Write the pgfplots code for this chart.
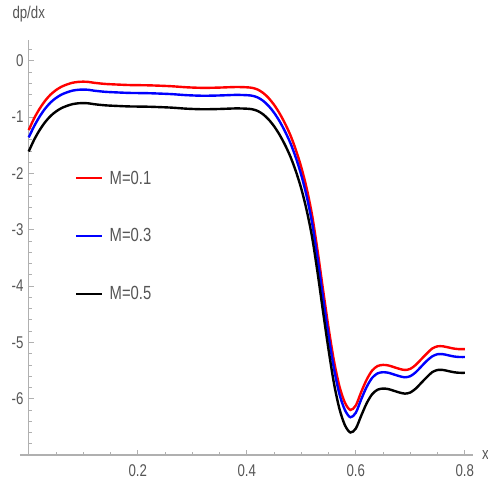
\documentclass[border=0pt]{standalone}
\usepackage{fontspec}
\setmainfont{Liberation Sans}[FakeStretch=0.78]
\usepackage{pgfplots}
\pgfplotsset{compat=1.18}
\definecolor{axgray}{HTML}{B0B0B0}
\definecolor{lblgray}{HTML}{555555}
\begin{document}
\begin{tikzpicture}
\begin{axis}[
  scale only axis, width=453bp, height=415bp,
  xmin=-0.016, xmax=0.815, ymin=-7.0, ymax=0.37,
  axis x line=bottom, axis y line=middle,
  axis line style={-, draw=axgray, line width=1.1bp},
  xtick={0.2,0.4,0.6,0.8}, xticklabels={0.2,0.4,0.6,0.8},
  ytick={-6,-5,-4,-3,-2,-1,0}, yticklabels={-6,-5,-4,-3,-2,-1,0},
  minor xtick={0.05,0.1,0.15,0.25,0.3,0.35,0.45,0.5,0.55,0.65,0.7,0.75},
  minor ytick={-6.8,-6.6,-6.4,-6.2,-5.8,-5.6,-5.4,-5.2,-4.8,-4.6,-4.4,-4.2,-3.8,-3.6,-3.4,-3.2,-2.8,-2.6,-2.4,-2.2,-1.8,-1.6,-1.4,-1.2,-0.8,-0.6,-0.4,-0.2,0.2},
  tick align=inside,
  major tick length=5bp, minor tick length=3bp,
  tick style={draw=axgray, line width=0.8bp},
  ticklabel style={font=\fontsize{17bp}{20bp}\selectfont, text=lblgray},
  yticklabel style={inner sep=0pt, xshift=-5bp},
  xticklabel style={inner sep=0pt, yshift=-9bp},
  ylabel={dp/dx},
  ylabel style={at={(axis description cs:0.01925,1)}, anchor=south, rotate=0, inner sep=0pt, yshift=18bp, font=\fontsize{17bp}{20bp}\selectfont, text=lblgray},
  xlabel={x},
  xlabel style={at={(axis description cs:1,0)}, anchor=west, inner sep=0pt, xshift=9bp, font=\fontsize{17bp}{20bp}\selectfont, text=lblgray},
  legend style={draw=none, fill=none, inner sep=0pt, at={(axis cs:0.085,-1.95)}, anchor=north west,
    font=\fontsize{19bp}{22bp}\selectfont, text=lblgray, row sep=43bp, column sep=6bp,
    nodes={inner sep=0pt}},
  legend cell align=left,
  legend image code/.code={\draw[#1] (0bp,0bp) -- (26bp,0bp);},
  every axis plot/.append style={line width=2.4bp, smooth},
]
\addplot[red] coordinates {
(0,-1.23)(0.01,-1.02)(0.02,-0.85)(0.03,-0.71)(0.04,-0.60)(0.05,-0.52)(0.06,-0.46)(0.07,-0.42)(0.08,-0.39)(0.09,-0.375)
(0.10,-0.37)(0.11,-0.375)(0.12,-0.39)(0.14,-0.41)(0.16,-0.42)(0.185,-0.43)(0.22,-0.435)(0.26,-0.45)(0.29,-0.47)(0.32,-0.48)
(0.35,-0.475)(0.38,-0.465)(0.40,-0.47)(0.41,-0.48)(0.42,-0.51)(0.43,-0.57)(0.44,-0.66)(0.45,-0.78)(0.46,-0.93)(0.47,-1.11)
(0.48,-1.32)(0.49,-1.58)(0.50,-1.89)(0.51,-2.27)(0.52,-2.75)(0.53,-3.38)(0.54,-4.07)(0.55,-4.74)(0.56,-5.33)(0.57,-5.78)
(0.58,-6.07)(0.59,-6.20)(0.60,-6.12)(0.61,-5.88)(0.62,-5.66)(0.63,-5.50)(0.64,-5.42)(0.65,-5.40)(0.66,-5.41)(0.67,-5.44)
(0.68,-5.47)(0.69,-5.49)(0.70,-5.47)(0.71,-5.40)(0.72,-5.30)(0.73,-5.20)(0.74,-5.11)(0.75,-5.07)(0.76,-5.07)(0.77,-5.09)
(0.78,-5.11)(0.79,-5.12)(0.80,-5.12)};
\addlegendentry{M=0.1}
\addplot[blue] coordinates {
(0,-1.36)(0.01,-1.16)(0.02,-0.99)(0.03,-0.85)(0.04,-0.74)(0.05,-0.66)(0.06,-0.60)(0.07,-0.56)(0.08,-0.53)(0.09,-0.515)
(0.10,-0.51)(0.11,-0.515)(0.12,-0.53)(0.14,-0.55)(0.16,-0.56)(0.185,-0.57)(0.22,-0.575)(0.26,-0.59)(0.29,-0.61)(0.32,-0.62)
(0.35,-0.615)(0.38,-0.605)(0.40,-0.61)(0.41,-0.62)(0.42,-0.65)(0.43,-0.71)(0.44,-0.80)(0.45,-0.92)(0.46,-1.07)(0.47,-1.25)
(0.48,-1.46)(0.49,-1.72)(0.50,-2.03)(0.51,-2.41)(0.52,-2.89)(0.53,-3.52)(0.54,-4.21)(0.55,-4.88)(0.56,-5.47)(0.57,-5.92)
(0.58,-6.20)(0.59,-6.33)(0.60,-6.25)(0.61,-6.01)(0.62,-5.79)(0.63,-5.63)(0.64,-5.55)(0.65,-5.53)(0.66,-5.54)(0.67,-5.57)
(0.68,-5.60)(0.69,-5.62)(0.70,-5.60)(0.71,-5.53)(0.72,-5.43)(0.73,-5.33)(0.74,-5.25)(0.75,-5.21)(0.76,-5.21)(0.77,-5.23)
(0.78,-5.25)(0.79,-5.26)(0.80,-5.26)};
\addlegendentry{M=0.3}
\addplot[black] coordinates {
(0,-1.61)(0.01,-1.40)(0.02,-1.23)(0.03,-1.09)(0.04,-0.98)(0.05,-0.90)(0.06,-0.84)(0.07,-0.80)(0.08,-0.77)(0.09,-0.755)
(0.10,-0.75)(0.11,-0.755)(0.12,-0.77)(0.14,-0.79)(0.16,-0.80)(0.185,-0.81)(0.22,-0.815)(0.26,-0.83)(0.29,-0.85)(0.32,-0.86)
(0.35,-0.855)(0.38,-0.845)(0.40,-0.85)(0.41,-0.86)(0.42,-0.89)(0.43,-0.95)(0.44,-1.04)(0.45,-1.16)(0.46,-1.31)(0.47,-1.49)
(0.48,-1.70)(0.49,-1.96)(0.50,-2.27)(0.51,-2.66)(0.52,-3.14)(0.53,-3.77)(0.54,-4.46)(0.55,-5.13)(0.56,-5.73)(0.57,-6.18)
(0.58,-6.47)(0.59,-6.60)(0.60,-6.53)(0.61,-6.30)(0.62,-6.08)(0.63,-5.92)(0.64,-5.84)(0.65,-5.82)(0.66,-5.83)(0.67,-5.86)
(0.68,-5.89)(0.69,-5.91)(0.70,-5.89)(0.71,-5.82)(0.72,-5.72)(0.73,-5.62)(0.74,-5.53)(0.75,-5.49)(0.76,-5.49)(0.77,-5.51)
(0.78,-5.53)(0.79,-5.54)(0.80,-5.54)};
\addlegendentry{M=0.5}
\end{axis}
\pgfresetboundingbox
\path (current axis.south west) ++(-20bp,-31bp) rectangle ++(488bp,486bp);
\end{tikzpicture}
\end{document}
